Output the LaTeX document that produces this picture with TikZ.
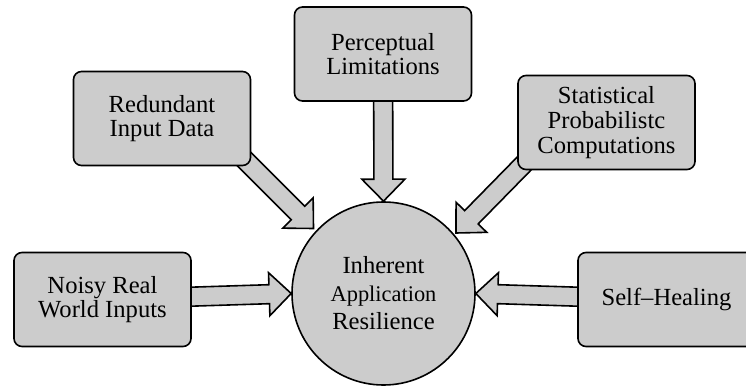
\documentclass[tikz,border=0pt]{standalone}
\usepackage{fontspec}
\setmainfont{Liberation Serif}
\usetikzlibrary{calc,backgrounds}
\definecolor{boxgray}{HTML}{CCCCCC}
\tikzset{
  box/.style={draw, line width=1.6pt, fill=boxgray, rounded corners=8pt,
    minimum width=177pt, minimum height=94pt, inner sep=0pt, align=center,
    font=\fontsize{24.6}{24.6}\selectfont},
  hub/.style={circle, draw, line width=1.6pt, fill=boxgray, minimum size=183pt,
    inner sep=0pt, align=center, font=\fontsize{24.6}{28}\selectfont},
  % wide hollow arrow: shaft half-width 9.5pt, head half-width 21.5pt, head length 22pt
  blockarrow/.style={draw, line width=1.6pt, fill=boxgray, line join=miter, miter limit=10,
    to path={
      ($(\tikztostart)!9.5pt!90:(\tikztotarget)$)
      -- ($(\tikztotarget)!22pt!(\tikztostart)!9.5pt!90:(\tikztotarget)$)
      -- ($(\tikztotarget)!22pt!(\tikztostart)!21.5pt!90:(\tikztotarget)$)
      -- (\tikztotarget)
      -- ($(\tikztotarget)!22pt!(\tikztostart)!21.5pt!-90:(\tikztotarget)$)
      -- ($(\tikztotarget)!22pt!(\tikztostart)!9.5pt!-90:(\tikztotarget)$)
      -- ($(\tikztostart)!9.5pt!-90:(\tikztotarget)$)
      -- cycle}}
}
\begin{document}
\begin{tikzpicture}[x=1pt,y=-1pt]
  \useasboundingbox (0,0) rectangle (746,387);

  % central resilience hub
  \node[hub] (res) at (383.5,293.5)
    {Inherent\\{\fontsize{22.4}{28}\selectfont Application}\\Resilience};

  % contributing factors
  \node[box] (red)   at (162,118.5) {Redundant\\Input Data};
  \node[box] (perc)  at (383,54)    {Perceptual\\Limitations};
  \node[box] (stat)  at (606.5,122.5) {Statistical\\Probabilistc\\Computations};
  \node[box] (noisy) at (102.5,299.5) {Noisy Real\\World Inputs};
  \node[box] (heal)  at (666.5,299.5) {Self--Healing};

  % diagonal arrow ends
  \coordinate (redStart)  at ($(red.south east)+(-15,-15)$);
  \coordinate (redTip)    at (313.5,228.5);
  \coordinate (statStart) at ($(stat.south west)+(15,-15)$);
  \coordinate (statTip)   at (456,233);

  \begin{scope}[on background layer]
    \draw[blockarrow] (perc.center) to (res.north);
    \draw[blockarrow] (noisy.center) to (res.west);
    \draw[blockarrow] (heal.center) to (res.east);
    \draw[blockarrow] (redStart) to (redTip);
    \draw[blockarrow] (statStart) to (statTip);
  \end{scope}
\end{tikzpicture}
\end{document}
